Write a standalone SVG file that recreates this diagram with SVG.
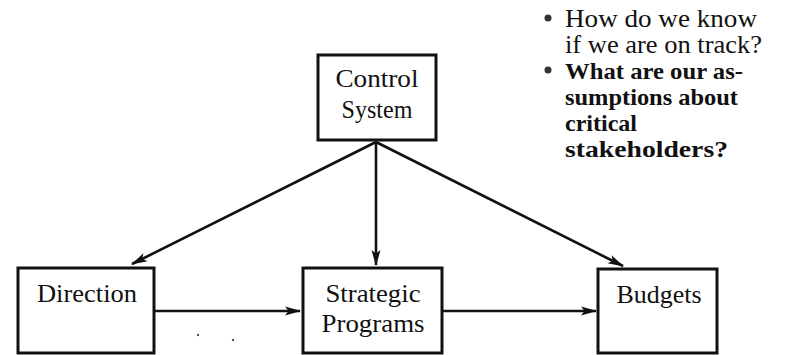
<svg xmlns="http://www.w3.org/2000/svg" width="788" height="355" viewBox="0 0 788 355">
  <style>
    .box { fill: #fff; stroke: #111; stroke-width: 3; }
    .lbl { font-family: "Liberation Serif", "Times New Roman", serif; font-size: 26px; fill: #111; text-anchor: middle; }
    .note { font-family: "Liberation Serif", "Times New Roman", serif; font-size: 25px; fill: #111; }
    .note.b { font-weight: bold; font-size: 24px; }
    .wire { fill: none; stroke: #111; stroke-width: 2.6; marker-end: url(#head); }
    .dot { fill: #555; }
  </style>
  <defs>
    <marker id="head" viewBox="0 0 16 10" refX="15" refY="5" markerWidth="16" markerHeight="10" markerUnits="userSpaceOnUse" orient="auto">
      <path d="M0,0.5 L16,5 L0,9.5 L3.5,5 Z" fill="#111"/>
    </marker>
  </defs>
  <rect width="788" height="355" fill="#fff"/>

  <!-- connectors -->
  <g id="connectors">
    <line class="wire" x1="376" y1="142" x2="132" y2="264"/>
    <line class="wire" x1="376" y1="142" x2="376" y2="265"/>
    <line class="wire" x1="376" y1="142" x2="623" y2="266"/>
    <line class="wire" x1="155" y1="311" x2="300" y2="311"/>
    <line class="wire" x1="443" y1="311" x2="596" y2="311"/>
  </g>

  <g id="control-system">
    <rect class="box" x="318" y="55" width="118" height="85"/>
    <text class="lbl" x="377" y="87" textLength="83" lengthAdjust="spacingAndGlyphs">Control</text>
    <text class="lbl" x="377" y="118" textLength="71" lengthAdjust="spacingAndGlyphs">System</text>
  </g>

  <g id="direction">
    <rect class="box" x="18" y="268" width="136" height="85"/>
    <text class="lbl" x="87" y="302" textLength="100" lengthAdjust="spacingAndGlyphs">Direction</text>
  </g>

  <g id="strategic-programs">
    <rect class="box" x="303" y="268" width="139" height="85"/>
    <text class="lbl" x="373" y="302" textLength="95" lengthAdjust="spacingAndGlyphs">Strategic</text>
    <text class="lbl" x="373" y="332" textLength="103" lengthAdjust="spacingAndGlyphs">Programs</text>
  </g>

  <g id="budgets">
    <rect class="box" x="598" y="269" width="119" height="84"/>
    <text class="lbl" x="659" y="303" textLength="85" lengthAdjust="spacingAndGlyphs">Budgets</text>
  </g>

  <!-- stray specks below the Direction arrow -->
  <circle class="dot" cx="198" cy="335" r="1.2"/>
  <circle class="dot" cx="233" cy="340" r="1.2"/>

  <g id="questions">
    <circle cx="548" cy="18" r="3.5" fill="#333"/>
    <text class="note" x="565" y="27" textLength="192" lengthAdjust="spacingAndGlyphs">How do we know</text>
    <text class="note" x="565" y="53" textLength="197" lengthAdjust="spacingAndGlyphs">if we are on track?</text>
    <circle cx="548" cy="70" r="3.5" fill="#333"/>
    <text class="note b" x="565" y="79" textLength="178" lengthAdjust="spacingAndGlyphs">What are our as-</text>
    <text class="note b" x="565" y="105" textLength="173" lengthAdjust="spacingAndGlyphs">sumptions about</text>
    <text class="note b" x="565" y="131" textLength="72" lengthAdjust="spacingAndGlyphs">critical</text>
    <text class="note b" x="565" y="157" textLength="163" lengthAdjust="spacingAndGlyphs">stakeholders?</text>
  </g>
</svg>
